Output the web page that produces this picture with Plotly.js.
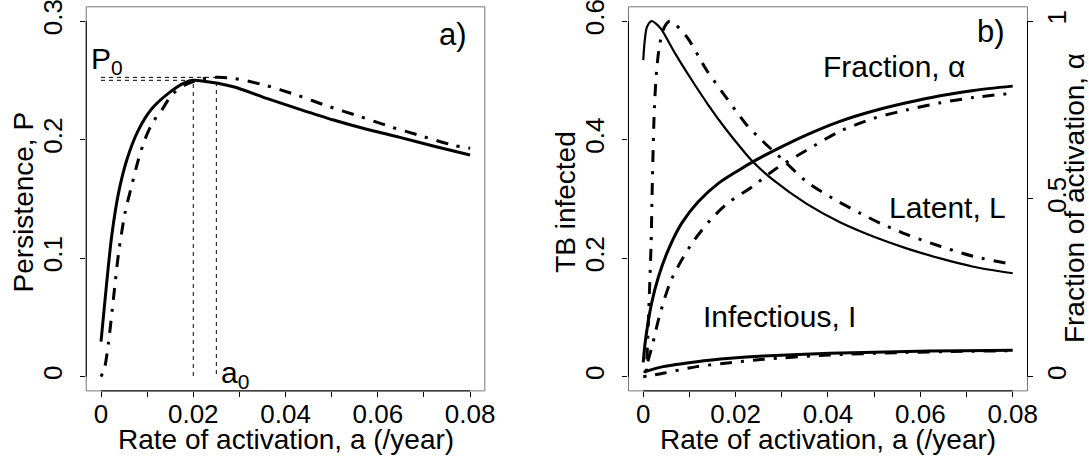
<!DOCTYPE html>
<html>
<head>
<meta charset="utf-8">
<script src="https://cdn.plot.ly/plotly-3.0.1.min.js"></script>
<style>
  html, body { margin: 0; padding: 0; background: #fff; }
  #chart { width: 1089px; height: 461px; }
</style>
</head>
<body>
<div id="chart"></div>
<script>
// ---- Panel a: persistence P against rate of activation a ----
const rateSolidP = [0, 0.001, 0.0023, 0.0038, 0.0056, 0.0081, 0.011, 0.0146, 0.0182, 0.02, 0.0215, 0.0287, 0.0359, 0.0431, 0.0504, 0.0576, 0.0648, 0.072, 0.08];
const persistSolid = [0.0295, 0.070, 0.118, 0.155, 0.183, 0.208, 0.226, 0.239, 0.248, 0.250, 0.2497, 0.2446, 0.2348, 0.2255, 0.2165, 0.2087, 0.2019, 0.1946, 0.187];

const rateDotDashP = [0, 0.0008, 0.0016, 0.0027, 0.0038, 0.0052, 0.0067, 0.0081, 0.0095, 0.0113, 0.0132, 0.0153, 0.0182, 0.0215, 0.025, 0.0287, 0.0354, 0.0424, 0.0491, 0.0558, 0.0627, 0.0695, 0.0764, 0.08];
const persistDotDash = [0, 0.008, 0.028, 0.066, 0.104, 0.138, 0.162, 0.183, 0.200, 0.215, 0.225, 0.2376, 0.246, 0.2508, 0.2525, 0.2517, 0.246, 0.2376, 0.2283, 0.2199, 0.2109, 0.203, 0.1952, 0.1926];

// peak of each persistence curve: (a0, P0)
const peakRate = [0.02, 0.025];
const peakPersist = [0.25, 0.2525];

// ---- Panel b: latent / infectious (left axis), fraction of activation (right axis) ----
const rateLatentSolid = [0, 0.0003, 0.0008, 0.0018, 0.003, 0.004, 0.0069, 0.0105, 0.0141, 0.0177, 0.0213, 0.0237, 0.0282, 0.0354, 0.0426, 0.0498, 0.057, 0.0643, 0.0715, 0.08];
const latentSolid = [0.534, 0.565, 0.590, 0.600, 0.594, 0.585, 0.5455, 0.5005, 0.4583, 0.4195, 0.3845, 0.363, 0.3315, 0.2915, 0.2605, 0.2365, 0.2165, 0.1995, 0.1855, 0.1745];

const rateLatentDotDash = [0.0007, 0.0012, 0.0017, 0.002, 0.0024, 0.0029, 0.0036, 0.0046, 0.0058, 0.0094, 0.0137, 0.0181, 0.0224, 0.026, 0.0303, 0.0354, 0.0412, 0.0469, 0.0513, 0.057, 0.0643, 0.0715, 0.0787, 0.08];
const latentDotDash = [0.008, 0.1125, 0.225, 0.337, 0.45, 0.517, 0.562, 0.59, 0.60, 0.5735, 0.5174, 0.4696, 0.4246, 0.3964, 0.3655, 0.3289, 0.300, 0.276, 0.259, 0.240, 0.220, 0.203, 0.1915, 0.19];

const rateInfectious = [0.0004, 0.0043, 0.0116, 0.0188, 0.026, 0.0404, 0.0549, 0.0693, 0.08];
const infectiousSolid = [0.0084, 0.0169, 0.0253, 0.031, 0.0349, 0.0394, 0.0422, 0.0439, 0.0445];
const rateInfectiousDD = [0, 0.0043, 0.0116, 0.0188, 0.026, 0.0404, 0.0549, 0.0693, 0.08];
const infectiousDotDash = [0.0, 0.0057, 0.0169, 0.0236, 0.0293, 0.0366, 0.0405, 0.0428, 0.0437];

const rateFractionSolid = [0, 0.0004, 0.0018, 0.0033, 0.0054, 0.0083, 0.0119, 0.0162, 0.0206, 0.0237, 0.0282, 0.0354, 0.0426, 0.0498, 0.057, 0.0643, 0.0715, 0.08];
const fractionSolid = [0.04, 0.094, 0.206, 0.281, 0.356, 0.431, 0.492, 0.543, 0.580, 0.604, 0.635, 0.680, 0.718, 0.747, 0.770, 0.790, 0.805, 0.817];

const rateFractionDD = [0.0003, 0.002, 0.0035, 0.006, 0.0103, 0.0145, 0.0185, 0.0237, 0.0282, 0.0354, 0.0426, 0.0498, 0.057, 0.0643, 0.0715, 0.08];
const fractionDotDash = [0.01, 0.09, 0.17, 0.27, 0.37, 0.44, 0.49, 0.535, 0.58, 0.637, 0.69, 0.726, 0.75, 0.77, 0.785, 0.797];

// ---- ticks and labels ----
const rateTicks = [0, 0.02, 0.04, 0.06, 0.08];
const rateTickText = ['0', '0.02', '0.04', '0.06', '0.08'];
const rateMinorTicks = [0.01, 0.03, 0.05, 0.07];
const persistTicks = [0, 0.1, 0.2, 0.3];
const persistTickText = ['0', '0.1', '0.2', '0.3'];
const infectedTicks = [0, 0.2, 0.4, 0.6];
const infectedTickText = ['0', '0.2', '0.4', '0.6'];
const fractionTicks = [0, 0.5, 1];
const fractionTickText = ['0', '0.5', '1'];

const xTitle = 'Rate of activation, a (/year)';
const yTitleA = 'Persistence, P';
const yTitleB = 'TB infected';
const yTitleBRight = 'Fraction of activation, α';

// ---- styling ----
const FONT = 'Liberation Sans, Arial, Helvetica, sans-serif';
const DOTDASH = '3px,9px,12px,9px';
const solid = (w) => ({ color: '#000', width: w, shape: 'spline', smoothing: 0.8 });
const dotdash = (w) => ({ color: '#000', width: w, dash: DOTDASH, shape: 'spline', smoothing: 0.8 });
const refLine = { color: '#000', width: 1, dash: '4px,4px' };

const traces = [
  { x: rateSolidP, y: persistSolid, xaxis: 'x', yaxis: 'y', mode: 'lines', line: solid(3) },
  { x: rateDotDashP, y: persistDotDash, xaxis: 'x', yaxis: 'y', mode: 'lines', line: dotdash(3) },
  { x: [0, peakRate[0], peakRate[0]], y: [peakPersist[0], peakPersist[0], 0], xaxis: 'x', yaxis: 'y', mode: 'lines', line: refLine },
  { x: [0, peakRate[1], peakRate[1]], y: [peakPersist[1], peakPersist[1], 0], xaxis: 'x', yaxis: 'y', mode: 'lines', line: refLine },

  { x: rateLatentSolid, y: latentSolid, xaxis: 'x2', yaxis: 'y2', mode: 'lines', line: solid(2.2) },
  { x: rateLatentDotDash, y: latentDotDash, xaxis: 'x2', yaxis: 'y2', mode: 'lines', line: dotdash(3) },
  { x: rateInfectious, y: infectiousSolid, xaxis: 'x2', yaxis: 'y2', mode: 'lines', line: solid(3) },
  { x: rateInfectiousDD, y: infectiousDotDash, xaxis: 'x2', yaxis: 'y2', mode: 'lines', line: dotdash(3) },
  { x: rateFractionSolid, y: fractionSolid, xaxis: 'x2', yaxis: 'y3', mode: 'lines', line: solid(3) },
  { x: rateFractionDD, y: fractionDotDash, xaxis: 'x2', yaxis: 'y3', mode: 'lines', line: dotdash(3) }
];

const axisBase = {
  showgrid: false, zeroline: false, showline: false,
  ticks: 'outside', ticklen: 5, tickwidth: 1, tickcolor: '#000',
  ticklabeloverflow: 'allow', automargin: false,
  tickfont: { family: FONT, size: 26, color: '#000' }
};
const minorX = { tickmode: 'array', tickvals: rateMinorTicks, ticks: 'outside', ticklen: 5, tickwidth: 1, tickcolor: '#000', showgrid: false };
const yDomain = [0.1521, 0.9852];

const titleFont = { family: FONT, size: 28, color: '#000' };
const noteFont = { family: FONT, size: 30, color: '#000' };
const panelFont = { family: FONT, size: 31, color: '#000' };
const note = (xref, yref, x, y, text, xanchor, font) =>
  ({ xref, yref, x, y, text, xanchor, yanchor: 'middle', showarrow: false, font });
const axisTitle = (x, y, text, angle) =>
  ({ xref: 'paper', yref: 'paper', x, y, text, textangle: angle, xanchor: 'center', yanchor: 'middle', showarrow: false, font: titleFont });

// frame around each panel (thin grey) and axis lines spanning the tick range (black)
const frame = (xa, ya) => ({ type: 'rect', xref: xa + ' domain', yref: ya + ' domain', x0: 0, x1: 1, y0: 0, y1: 1, line: { color: '#777', width: 1 } });
const hAxisLine = (xa, ya, ticks) => ({ type: 'line', xref: xa, yref: ya + ' domain', x0: ticks[0], x1: ticks[ticks.length - 1], y0: 0, y1: 0, line: { color: '#000', width: 1 } });
const vAxisLine = (xa, ya, ticks, side) => ({ type: 'line', xref: xa + ' domain', yref: ya, x0: side, x1: side, y0: ticks[0], y1: ticks[ticks.length - 1], line: { color: '#000', width: 1 } });

const layout = {
  width: 1089, height: 461,
  margin: { l: 0, r: 0, t: 0, b: 0 },
  paper_bgcolor: '#fff', plot_bgcolor: '#fff',
  showlegend: false,
  font: { family: FONT, color: '#000' },
  xaxis: Object.assign({}, axisBase, {
    domain: [0.0792, 0.4452], anchor: 'y', range: [-0.0032, 0.0832],
    tickvals: rateTicks, ticktext: rateTickText, minor: minorX, ticklabelstandoff: -5
  }),
  yaxis: Object.assign({}, axisBase, {
    domain: yDomain, anchor: 'x', range: [-0.012, 0.312], tickangle: -90,
    tickvals: persistTicks, ticktext: persistTickText, ticklabelstandoff: 8
  }),
  xaxis2: Object.assign({}, axisBase, {
    domain: [0.5771, 0.9435], anchor: 'y2', range: [-0.0032, 0.0832],
    tickvals: rateTicks, ticktext: rateTickText, minor: minorX, ticklabelstandoff: -5
  }),
  yaxis2: Object.assign({}, axisBase, {
    domain: yDomain, anchor: 'x2', range: [-0.024, 0.624], tickangle: -90,
    tickvals: infectedTicks, ticktext: infectedTickText, ticklabelstandoff: 8
  }),
  yaxis3: Object.assign({}, axisBase, {
    domain: yDomain, anchor: 'x2', overlaying: 'y2', side: 'right', range: [-0.04, 1.04], tickangle: -90,
    tickvals: fractionTicks, ticktext: fractionTickText, ticklabelstandoff: 1
  }),
  shapes: [
    frame('x', 'y'), frame('x2', 'y2'),
    hAxisLine('x', 'y', rateTicks), vAxisLine('x', 'y', persistTicks, 0),
    hAxisLine('x2', 'y2', rateTicks), vAxisLine('x2', 'y2', infectedTicks, 0),
    vAxisLine('x2', 'y3', fractionTicks, 1)
  ],
  annotations: [
    // axis titles
    axisTitle(0.2622, 0.0456, xTitle, 0),
    axisTitle(0.7603, 0.0456, xTitle, 0),
    axisTitle(0.0216, 0.562, yTitleA, -90),
    axisTitle(0.5197, 0.562, yTitleB, -90),
    axisTitle(0.9869, 0.5698, yTitleBRight, -90),
    // panel a labels
    note('x', 'y', 0.0798, 0.289, 'a)', 'right', panelFont),
    note('x', 'y', -0.0025, 0.267, 'P<sub>0</sub>', 'left', noteFont),
    note('x', 'y', 0.0256, 0.002, 'a<sub>0</sub>', 'left', noteFont),
    // panel b labels
    note('x2', 'y2', 0.0788, 0.5823, 'b)', 'right', panelFont),
    note('x2', 'y2', 0.0385, 0.524, 'Fraction, α', 'left', noteFont),
    note('x2', 'y2', 0.0527, 0.285, 'Latent, L', 'left', noteFont),
    note('x2', 'y2', 0.0126, 0.1015, 'Infectious, I', 'left', noteFont)
  ]
};

Plotly.newPlot('chart', traces, layout, { staticPlot: true, displayModeBar: false });
</script>
</body>
</html>
